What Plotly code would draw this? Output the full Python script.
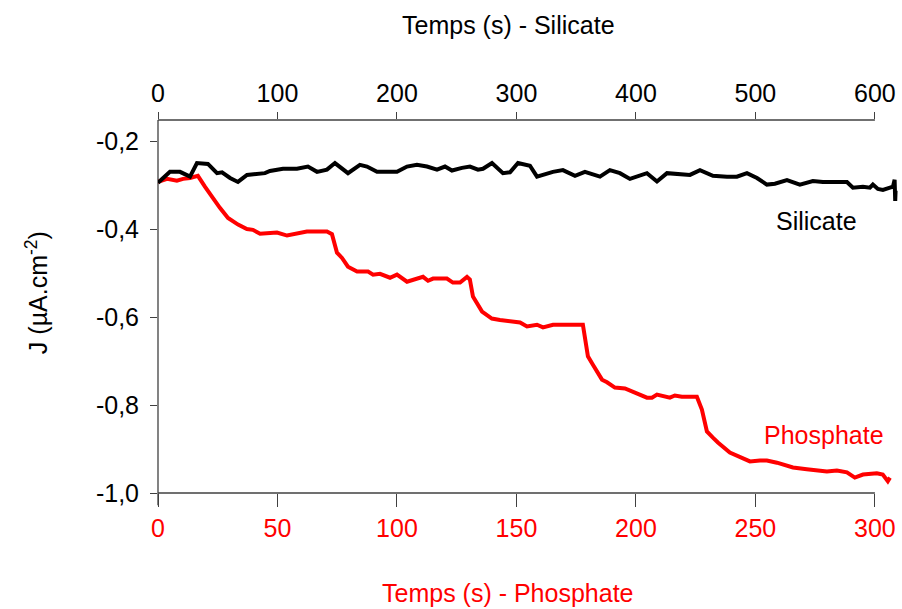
import plotly.graph_objects as go

# Silicate curve (top time axis, s)
si_t = [0, 10, 18.4, 26.8, 32.6, 41.8, 49.4, 53.6, 60.3, 66.9, 74.5, 89.5, 93.7, 104.6, 116.3,
        125.5, 133.1, 141.4, 148.1, 159.0, 169.0, 174.9, 183.3, 200.0, 208.4, 216.7, 225.1,
        233.5, 240.2, 246.0, 254.4, 261.1, 267.8, 272.0, 279.5, 288.7, 294.6, 301.3, 311.3,
        317.2, 330.5, 338.9, 349.0, 357.3, 369.9, 378.2, 386.6, 395.0, 409.2, 417.6, 426.0,
        436.8, 445.2, 453.6, 464.4, 476.2, 484.5, 492.9, 501.3, 509.6, 516.3, 526.4, 537.2,
        548.1, 556.5, 570.7, 576.6, 581.6, 590.0, 595.8, 598.3, 602.5, 606.7, 612.6, 615.1,
        616.5, 617.0, 617.3]
si_j = [-0.294, -0.269, -0.269, -0.280, -0.249, -0.251, -0.272, -0.270, -0.283, -0.292, -0.276,
        -0.272, -0.267, -0.262, -0.262, -0.257, -0.269, -0.264, -0.249, -0.272, -0.253, -0.257,
        -0.269, -0.269, -0.257, -0.253, -0.257, -0.264, -0.257, -0.266, -0.260, -0.257, -0.264,
        -0.262, -0.249, -0.272, -0.270, -0.249, -0.255, -0.280, -0.269, -0.265, -0.278, -0.269,
        -0.280, -0.265, -0.272, -0.285, -0.272, -0.291, -0.272, -0.274, -0.276, -0.265, -0.278,
        -0.280, -0.280, -0.272, -0.283, -0.298, -0.296, -0.288, -0.298, -0.290, -0.292, -0.292,
        -0.292, -0.305, -0.303, -0.305, -0.298, -0.308, -0.310, -0.305, -0.303, -0.287, -0.335,
        -0.312]

# Phosphate curve (bottom time axis, s)
ph_t = [0, 3.8, 7.9, 10.5, 13.4, 16.7, 19.7, 22.6, 25.9, 29.3, 33.5, 37.2, 39.7, 42.7, 49.8,
        54.0, 58.2, 62.3, 66.5, 70.7, 72.8, 74.9, 77.0, 79.5, 83.3, 87.9, 90.0, 92.9, 97.1,
        100.0, 104.2, 108.4, 110.9, 113.0, 115.1, 120.9, 123.4, 126.4, 129.3, 130.5, 131.8,
        135.6, 139.7, 143.1, 147.3, 151.5, 154.4, 158.6, 161.1, 163.2, 165.3, 177.8, 179.9,
        182.0, 185.8, 187.9, 191.2, 195.4, 198.3, 204.6, 206.7, 208.8, 214.2, 216.3, 219.2,
        225.5, 227.6, 229.7, 232.2, 234.3, 239.3, 243.5, 247.7, 251.9, 254.8, 259.0, 265.7,
        271.5, 279.9, 284.1, 288.3, 291.6, 295.0, 300.8, 303.3, 305.4, 306.3]
ph_j = [-0.292, -0.285, -0.289, -0.285, -0.283, -0.278, -0.303, -0.326, -0.351, -0.374, -0.389,
        -0.399, -0.401, -0.410, -0.407, -0.414, -0.410, -0.405, -0.405, -0.405, -0.411, -0.453,
        -0.465, -0.485, -0.496, -0.496, -0.503, -0.501, -0.510, -0.503, -0.519, -0.512, -0.508,
        -0.517, -0.512, -0.512, -0.521, -0.521, -0.508, -0.514, -0.553, -0.587, -0.603, -0.606,
        -0.608, -0.612, -0.621, -0.617, -0.623, -0.621, -0.617, -0.617, -0.689, -0.708, -0.742,
        -0.748, -0.760, -0.762, -0.769, -0.783, -0.783, -0.776, -0.783, -0.778, -0.781, -0.781,
        -0.810, -0.860, -0.874, -0.885, -0.908, -0.919, -0.928, -0.926, -0.926, -0.931, -0.942,
        -0.946, -0.951, -0.949, -0.953, -0.965, -0.958, -0.955, -0.958, -0.973, -0.965]

y_tickvals = [-1.0, -0.8, -0.6, -0.4, -0.2]
y_ticktext = ["-1,0", "-0,8", "-0,6", "-0,4", "-0,2"]
ph_tickvals = [0, 50, 100, 150, 200, 250, 300]
si_tickvals = [0, 100, 200, 300, 400, 500, 600]

FONT = "Liberation Sans"
AX = "#404040"

fig = go.Figure()
fig.add_trace(go.Scatter(x=ph_t, y=ph_j, mode="lines", xaxis="x", yaxis="y",
                         line=dict(color="#ff0000", width=4), showlegend=False))
fig.add_trace(go.Scatter(x=si_t, y=si_j, mode="lines", xaxis="x2", yaxis="y",
                         line=dict(color="#000000", width=4), showlegend=False))


def ann(text, x, y, color="black", angle=0):
    return dict(text=text, xref="paper", yref="paper", x=x, y=y, showarrow=False,
                xanchor="center", yanchor="middle", textangle=angle,
                font=dict(size=25, color=color, family=FONT))


fig.update_layout(
    width=902, height=609,
    margin=dict(l=158, r=2, t=120, b=116),
    paper_bgcolor="white", plot_bgcolor="white",
    font=dict(family=FONT, size=25, color="black"),
    xaxis=dict(range=[0, 310.5], tickvals=ph_tickvals, ticks="outside", ticklen=13,
               tickcolor=AX, tickwidth=1.3, showline=False, showgrid=False, zeroline=False,
               tickfont=dict(color="#ff0000", size=25)),
    xaxis2=dict(range=[0, 621], tickvals=si_tickvals, ticks="outside", ticklen=7,
                tickcolor=AX, tickwidth=1.3, showline=False, showgrid=False, zeroline=False,
                overlaying="x", side="top", anchor="y", tickfont=dict(size=25)),
    yaxis=dict(range=[-1.0, -0.151], tickvals=y_tickvals, ticktext=y_ticktext,
               ticks="outside", ticklen=7, tickcolor=AX, tickwidth=1.3, showline=False,
               showgrid=False, zeroline=False, tickfont=dict(size=25), ticklabelstandoff=6),
    shapes=[
        dict(type="line", xref="x2", yref="paper", x0=0, x1=600, y0=1, y1=1,
             line=dict(color=AX, width=1.3), layer="below"),
        dict(type="line", xref="x", yref="paper", x0=0, x1=300, y0=0, y1=0,
             line=dict(color=AX, width=1.3), layer="below"),
        dict(type="line", xref="paper", yref="paper", x0=0, x1=0, y0=-0.033, y1=1,
             line=dict(color=AX, width=1.3), layer="below"),
    ],
    annotations=[
        ann("Temps (s) - Silicate", 0.4717, 1.255),
        ann("Temps (s) - Phosphate", 0.4717, -0.268, "#ff0000"),
        ann("J (µA.cm<sup>-2</sup>)", -0.163, 0.536, angle=-90),
        ann("Silicate", 0.888, 0.729),
        ann("Phosphate", 0.898, 0.155, "#ff0000"),
    ],
)

fig.write_html(
    "out.html",
    config={"displayModeBar": False},
    post_script="document.body.style.margin='0';document.body.style.overflow='hidden';"
                "document.documentElement.style.overflow='hidden';",
)
